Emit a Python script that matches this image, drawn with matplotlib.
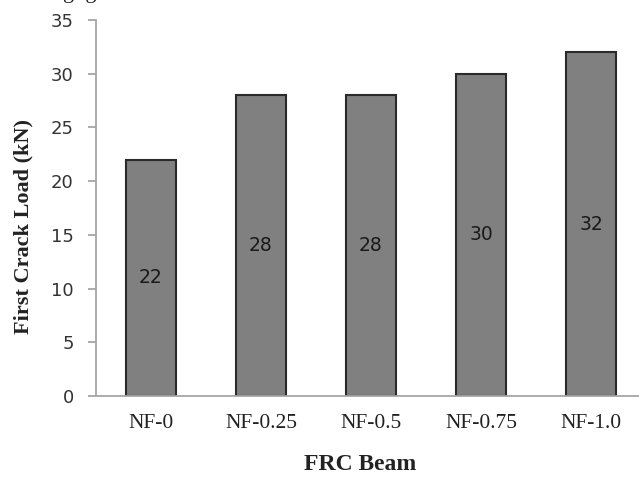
import matplotlib
matplotlib.use("Agg")
import matplotlib.pyplot as plt

beams = ["NF-0", "NF-0.25", "NF-0.5", "NF-0.75", "NF-1.0"]
first_crack = [22, 28, 28, 30, 32]
yticks = [0, 5, 10, 15, 20, 25, 30, 35]

W, H = 639, 478
fig = plt.figure(figsize=(W / 100, H / 100), dpi=100)
# the plot area runs a little past the right edge (source image is cropped)
ax = fig.add_axes([96 / W, 1 - 396 / H, 550 / W, (396 - 20) / H])

x = range(len(beams))
ax.bar(x, first_crack, width=0.46, color="#808080",
       edgecolor="#2a2a2a", linewidth=1.5, zorder=2)

for xi, v in zip(x, first_crack):
    ax.text(xi, v / 2, str(v), ha="center", va="center",
            fontsize=13.5, color="#1a1a1a", family="DejaVu Sans")

ax.set_xlim(-0.5, len(beams) - 0.5)
ax.set_ylim(0, 35)
ax.set_yticks(yticks)
ax.set_xticks(list(x))
ax.set_xticklabels(beams, family="Liberation Serif", fontsize=15.5, color="#222222")
for lbl in ax.get_yticklabels():
    lbl.set_family("DejaVu Sans")
    lbl.set_fontsize(13)
    lbl.set_color("#333333")

ax.spines["top"].set_visible(False)
ax.spines["right"].set_visible(False)
for side in ["left", "bottom"]:
    ax.spines[side].set_color("#a6a6a6")
    ax.spines[side].set_linewidth(1.3)
ax.tick_params(axis="y", direction="out", length=6, width=1.3, color="#a6a6a6", pad=10)
ax.tick_params(axis="x", length=0, pad=13)

ax.set_xlabel("FRC Beam", family="Liberation Serif", fontweight="bold",
              fontsize=17, color="#222222")
ax.set_ylabel("First Crack Load (kN)", family="Liberation Serif", fontweight="bold",
              fontsize=16, color="#222222")
ax.xaxis.set_label_coords((360 - 96) / 550, (396 - 454) / 376)
ax.yaxis.set_label_coords((33 - 96) / 550, (396 - 227) / 376)

# descenders of a caption line cut off at the top of the source image
fig.text(63 / W, 1 + 2 / H, "g  g", family="Liberation Serif", fontsize=16,
         color="#222222", va="baseline", ha="left")

fig.savefig("out.png", dpi=100)
